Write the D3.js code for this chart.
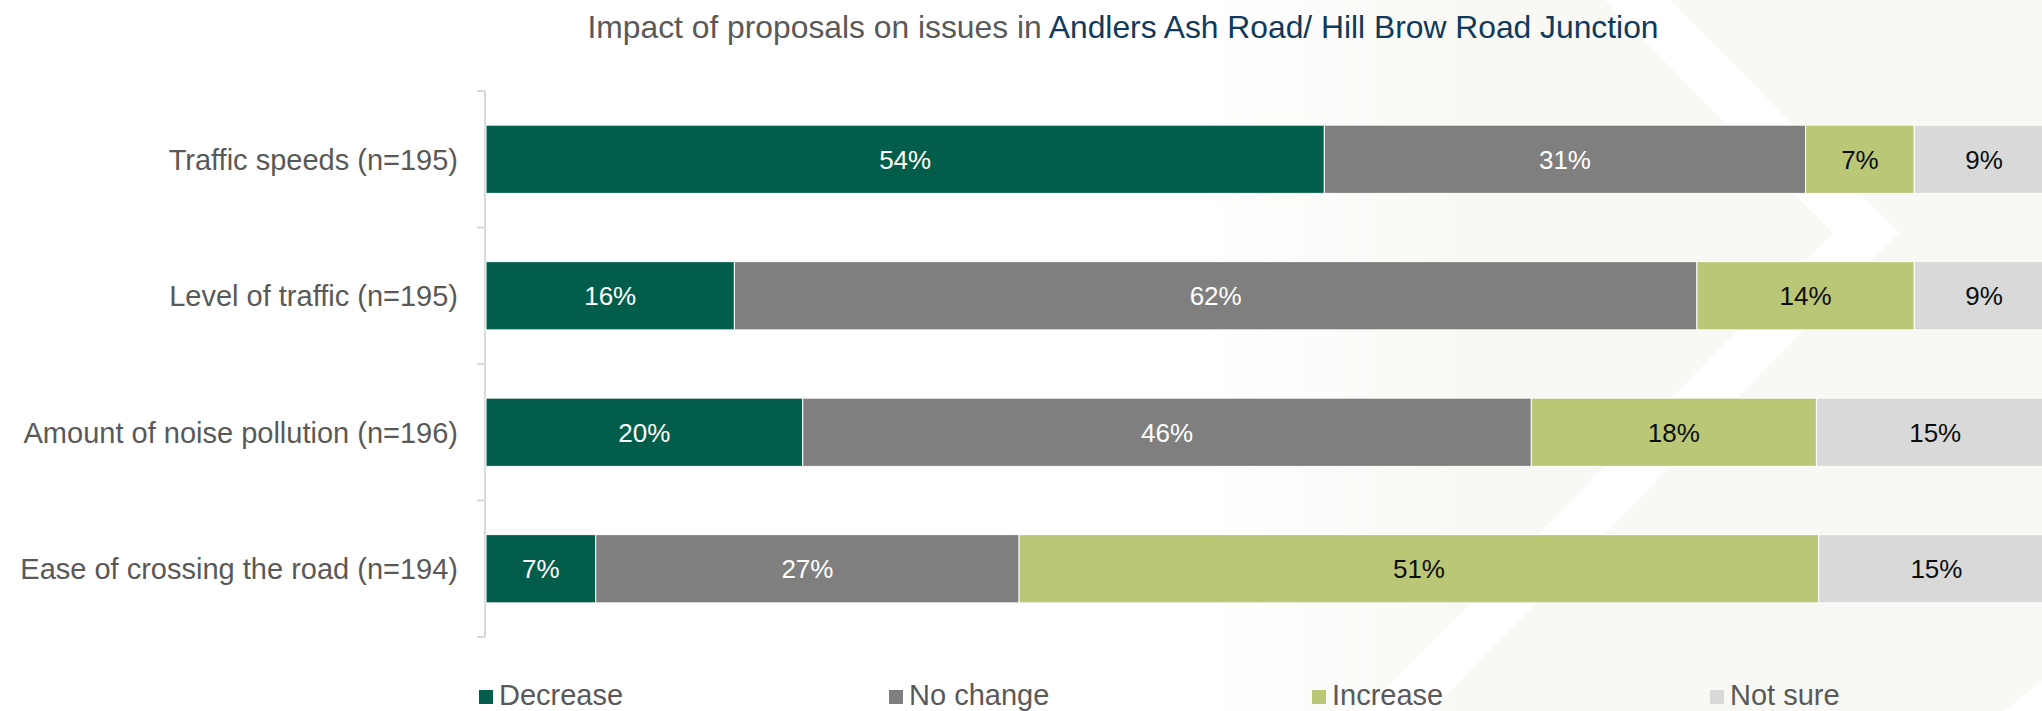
<!DOCTYPE html>
<html>
<head>
<meta charset="utf-8">
<script src="https://cdn.jsdelivr.net/npm/d3@7"></script>
<style>
  html, body { margin: 0; padding: 0; background: #ffffff; }
  svg { display: block; font-family: "Liberation Sans", Arial, sans-serif; }
</style>
</head>
<body>
<svg id="chart" width="2042" height="711"></svg>
<script>
// Survey responses per issue (percent of respondents)
const categories = [
  "Traffic speeds (n=195)",
  "Level of traffic (n=195)",
  "Amount of noise pollution (n=196)",
  "Ease of crossing the road (n=194)"
];
const seriesNames = ["Decrease", "No change", "Increase", "Not sure"];
const decrease = [54, 16, 20, 7];
const noChange = [31, 62, 46, 27];
const increase = [7, 14, 18, 51];
const notSure  = [9, 9, 15, 15];

const titleLead = "Impact of proposals on issues in ";
const titlePlace = "Andlers Ash Road/ Hill Brow Road Junction";

const colors = ["#025e4a", "#7f7f7f", "#b9c777", "#d9d9d9"];
const labelColors = ["#ffffff", "#ffffff", "#0d0d0d", "#0d0d0d"];

const W = 2042, H = 711;
const svg = d3.select("#chart");

// ---- decorative background: soft off-white panel with a white chevron ----
const defs = svg.append("defs");
const grad = defs.append("linearGradient")
  .attr("id", "panelFade").attr("gradientUnits", "userSpaceOnUse")
  .attr("x1", 1200).attr("y1", 0).attr("x2", 1460).attr("y2", 0);
grad.append("stop").attr("offset", "0").attr("stop-color", "#ffffff");
grad.append("stop").attr("offset", "1").attr("stop-color", "#f8f9f4");

svg.append("rect").attr("x", 1200).attr("y", 0)
  .attr("width", W - 1200).attr("height", H).attr("fill", "url(#panelFade)");

const tipY = 233, slope = 0.98, band = 66, tipX = 1833;
const edge = (y, off) => tipX + off - slope * Math.abs(y - tipY);
const chevron = [
  [edge(0, 0), 0], [tipX, tipY], [edge(H, 0), H],
  [edge(H, band), H], [tipX + band, tipY], [edge(0, band), 0]
];
svg.append("path")
  .attr("d", d3.line()(chevron) + "Z")
  .attr("fill", "#ffffff");
svg.append("path")
  .attr("d", d3.line()([[W, 680], [W, H], [2004, H]]) + "Z")
  .attr("fill", "#ffffff");

// ---- scales ----
const x = d3.scaleLinear().domain([0, 1]).range([486, 2054]);
const y = d3.scaleBand().domain(categories)
  .range([91, 637]).paddingInner(0.5).paddingOuter(0.25);

// 100% stacked rows
const rows = categories.map((c, i) => ({
  category: c,
  "Decrease": decrease[i],
  "No change": noChange[i],
  "Increase": increase[i],
  "Not sure": notSure[i]
}));
const stacked = d3.stack().keys(seriesNames).offset(d3.stackOffsetExpand)(rows);

// ---- axis (category line with ticks between bands) ----
const axisX = 485;
const axisG = svg.append("g");
const bounds = categories.map(c => y(c) - y.step() * y.paddingInner() / 2);
bounds.push(y(categories[categories.length - 1]) + y.bandwidth() + y.step() * y.paddingInner() / 2);
axisG.append("line")
  .attr("x1", axisX).attr("x2", axisX)
  .attr("y1", bounds[0]).attr("y2", bounds[bounds.length - 1])
  .attr("stroke", "#d9d9d9").attr("stroke-width", 2);
axisG.selectAll("line.tick").data(bounds).join("line")
  .attr("class", "tick")
  .attr("x1", axisX - 8).attr("x2", axisX)
  .attr("y1", d => d).attr("y2", d => d)
  .attr("stroke", "#d9d9d9").attr("stroke-width", 2);

// category labels
svg.append("g").selectAll("text").data(categories).join("text")
  .attr("x", 458)
  .attr("y", d => y(d) + y.bandwidth() / 2)
  .attr("dy", "0.36em")
  .attr("text-anchor", "end")
  .attr("font-size", 29)
  .attr("fill", "#595959")
  .text(d => d);

// ---- bars ----
const plot = svg.append("g");
stacked.forEach((layer, si) => {
  const g = plot.append("g");
  g.selectAll("rect").data(layer).join("rect")
    .attr("x", d => x(d[0]))
    .attr("y", d => y(d.data.category))
    .attr("width", d => x(d[1]) - x(d[0]))
    .attr("height", y.bandwidth())
    .attr("fill", colors[si])
    .attr("stroke", "#ffffff")
    .attr("stroke-width", 1);
  g.selectAll("text").data(layer).join("text")
    .attr("x", d => (x(d[0]) + x(d[1])) / 2)
    .attr("y", d => y(d.data.category) + y.bandwidth() / 2)
    .attr("dy", "0.36em")
    .attr("text-anchor", "middle")
    .attr("font-size", 26)
    .attr("fill", labelColors[si])
    .text(d => d.data[seriesNames[si]] + "%");
});

// ---- title ----
const title = svg.append("text")
  .attr("x", 1123).attr("y", 38)
  .attr("text-anchor", "middle")
  .attr("font-size", 31.8);
title.append("tspan").attr("fill", "#595959").text(titleLead);
title.append("tspan").attr("fill", "#0f3a5c").text(titlePlace);

// ---- legend ----
const legendX = [479, 889, 1312, 1710];
const legend = svg.append("g").selectAll("g").data(seriesNames).join("g")
  .attr("transform", (d, i) => `translate(${legendX[i]},0)`);
legend.append("rect")
  .attr("x", 0).attr("y", 690).attr("width", 14).attr("height", 14)
  .attr("fill", (d, i) => colors[i]);
legend.append("text")
  .attr("x", 20).attr("y", 705)
  .attr("font-size", 29)
  .attr("fill", "#595959")
  .text(d => d);
</script>
</body>
</html>
